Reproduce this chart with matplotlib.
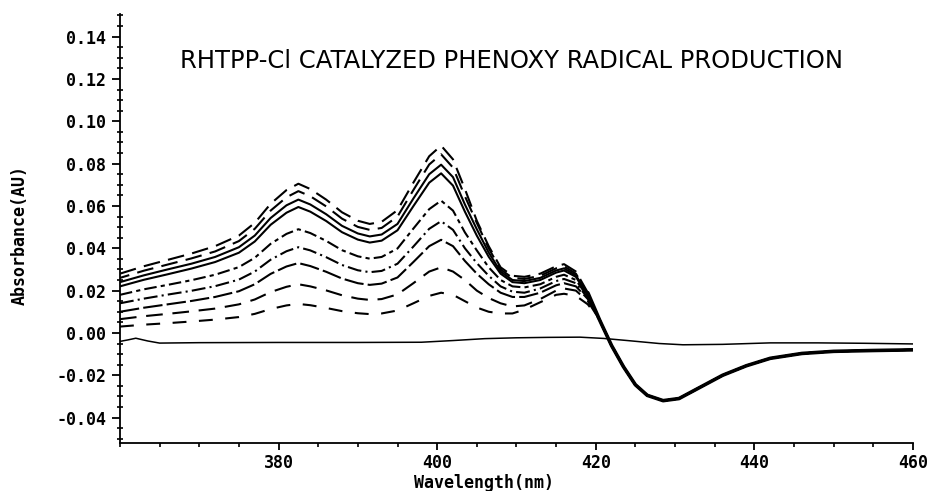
import matplotlib
matplotlib.use("Agg")
import matplotlib.pyplot as plt
from matplotlib.ticker import MultipleLocator, FormatStrFormatter

# wavelength grid (nm) where the traces still differ
wl_head = [360, 363, 366, 369, 372, 375, 377, 379, 381, 382.5, 384, 386, 388, 390,
           391.5, 393, 395, 397, 399, 400.5, 402, 403.5, 405, 406.5, 408, 409.5,
           411, 413, 415, 416, 417.5, 419]

# absorbance of each trace, top to bottom
c1 = [0.028, 0.0315, 0.0345, 0.0375, 0.041, 0.046, 0.052, 0.061, 0.0675, 0.0705, 0.068,
      0.063, 0.057, 0.053, 0.0515, 0.0525, 0.058, 0.071, 0.0835, 0.0885, 0.082, 0.068,
      0.053, 0.041, 0.031, 0.027, 0.0265, 0.028, 0.0315, 0.0325, 0.029, 0.019]
c2 = [0.026, 0.0294, 0.0323, 0.0352, 0.0385, 0.0434, 0.0492, 0.0578, 0.0641, 0.067, 0.0646,
      0.0598, 0.054, 0.0501, 0.0487, 0.0496, 0.055, 0.0675, 0.0796, 0.0844, 0.0781, 0.0646,
      0.052, 0.040, 0.030, 0.026, 0.0255, 0.027, 0.0305, 0.0315, 0.028, 0.0185]
c3 = [0.024, 0.0272, 0.030, 0.0327, 0.0359, 0.0405, 0.046, 0.0543, 0.0603, 0.063, 0.0607,
      0.0561, 0.0506, 0.047, 0.0456, 0.0465, 0.0515, 0.0635, 0.075, 0.0795, 0.0736, 0.0607,
      0.049, 0.038, 0.029, 0.025, 0.0245, 0.026, 0.0295, 0.0305, 0.0272, 0.018]
c4 = [0.022, 0.0251, 0.0277, 0.0304, 0.0335, 0.0379, 0.0432, 0.0511, 0.0568, 0.0595, 0.0573,
      0.0529, 0.0476, 0.0441, 0.0427, 0.0436, 0.0485, 0.0599, 0.071, 0.0754, 0.0696, 0.0573,
      0.046, 0.036, 0.028, 0.024, 0.0235, 0.025, 0.0285, 0.0295, 0.0265, 0.0175]
c5 = [0.018, 0.0206, 0.0227, 0.0249, 0.0275, 0.0311, 0.0355, 0.0421, 0.0468, 0.049, 0.0472,
      0.0435, 0.0391, 0.0362, 0.0351, 0.0359, 0.0399, 0.0493, 0.0585, 0.0625, 0.0578, 0.0475,
      0.039, 0.031, 0.025, 0.022, 0.0215, 0.023, 0.0265, 0.0275, 0.025, 0.017]
c6 = [0.014, 0.0162, 0.0181, 0.0199, 0.0221, 0.0252, 0.029, 0.0346, 0.0386, 0.0405, 0.039,
      0.0358, 0.0321, 0.0296, 0.0287, 0.0293, 0.0327, 0.0408, 0.0492, 0.0528, 0.0487, 0.040,
      0.033, 0.027, 0.022, 0.0195, 0.019, 0.021, 0.0245, 0.0255, 0.0235, 0.0165]
c7 = [0.010, 0.0119, 0.0135, 0.0151, 0.017, 0.0197, 0.023, 0.0279, 0.0314, 0.033, 0.0316,
      0.0289, 0.0257, 0.0235, 0.0227, 0.0233, 0.0262, 0.0335, 0.041, 0.044, 0.041, 0.034,
      0.028, 0.023, 0.019, 0.017, 0.017, 0.019, 0.0225, 0.0235, 0.022, 0.016]
c8 = [0.0065, 0.0079, 0.009, 0.0102, 0.0115, 0.0135, 0.0158, 0.0193, 0.0218, 0.023, 0.022,
      0.0201, 0.0178, 0.0162, 0.0156, 0.016, 0.0182, 0.0235, 0.029, 0.031, 0.029, 0.025,
      0.020, 0.0165, 0.014, 0.0125, 0.013, 0.016, 0.020, 0.021, 0.020, 0.015]
c9 = [0.003, 0.0039, 0.0046, 0.0054, 0.0063, 0.0075, 0.009, 0.0113, 0.013, 0.0137, 0.0131,
      0.0118, 0.0103, 0.0093, 0.0089, 0.0092, 0.0106, 0.014, 0.0175, 0.019, 0.018, 0.015,
      0.012, 0.010, 0.0092, 0.0092, 0.011, 0.0145, 0.018, 0.0185, 0.0175, 0.0135]

# past ~420 nm all traces lie on top of each other
wl_tail = [420.5, 422, 423.5, 425, 426.5, 428.5, 430.5, 433, 436, 439, 442, 446, 450, 455, 460]
tail = [0.006, -0.006, -0.016, -0.0245, -0.0295, -0.032, -0.031, -0.026, -0.020, -0.0155,
        -0.012, -0.0097, -0.0087, -0.0083, -0.008]

# baseline scan
wl_base = [360, 361, 362, 363.5, 365, 370, 380, 390, 398, 402, 406, 410, 414, 418, 421,
           424, 428, 431, 436, 442, 448, 454, 460]
base = [-0.0040, -0.0033, -0.0025, -0.0038, -0.0048, -0.0046, -0.0045, -0.0045, -0.0044,
        -0.0036, -0.0027, -0.0023, -0.0021, -0.0020, -0.0026, -0.0036, -0.0050, -0.0056,
        -0.0054, -0.0047, -0.0047, -0.0049, -0.0052]

traces = [c1, c2, c3, c4, c5, c6, c7, c8, c9]
styles = [(0, (12, 6)), (5, (12, 6)), "-", "-", (0, (9, 3, 3, 3)),
          (0, (10, 3, 1.5, 3)), (0, (14, 3)), (0, (12, 7)), (0, (10, 9))]

plt.rcParams["lines.scale_dashes"] = False
plt.rcParams["axes.unicode_minus"] = False

fig = plt.figure(figsize=(9.35, 4.91), dpi=100)
ax = fig.add_axes([0.1283, 0.0978, 0.8481, 0.8737])

for vals, ls in zip(traces, styles):
    ax.plot(wl_head + wl_tail, vals + tail, color="black", lw=1.5, linestyle=ls)
# merged part of the traces prints heavier
ax.plot(wl_head[-1:] + wl_tail, c1[-1:] + tail, color="black", lw=2.6,
        solid_capstyle="round")
ax.plot(wl_base, base, color="black", lw=1.1)

ax.set_xlim(360, 460)
ax.set_ylim(-0.052, 0.1507)

ax.spines["top"].set_visible(False)
ax.spines["right"].set_visible(False)
ax.spines["left"].set_linewidth(1.3)
ax.spines["bottom"].set_linewidth(1.3)

ax.xaxis.set_major_locator(MultipleLocator(20))
ax.xaxis.set_minor_locator(MultipleLocator(5))
ax.yaxis.set_major_locator(MultipleLocator(0.02))
ax.yaxis.set_minor_locator(MultipleLocator(0.005))
ax.yaxis.set_major_formatter(FormatStrFormatter("%.2f"))
ax.set_xticks([380, 400, 420, 440, 460])

ax.tick_params(axis="x", which="major", direction="out", length=5, width=1.3, pad=3)
ax.tick_params(axis="x", which="minor", direction="out", length=3, width=1.2)
ax.tick_params(axis="y", which="major", direction="out", length=6, width=1.3, pad=4)
ax.tick_params(axis="y", which="minor", direction="inout", length=4, width=1.2)
for lab in ax.get_xticklabels() + ax.get_yticklabels():
    lab.set_fontfamily("DejaVu Sans Mono")
    lab.set_fontweight("bold")
    lab.set_fontsize(12)

fig.text(484 / 935, 1 - 483 / 491, "Wavelength(nm)", ha="center", va="center",
         fontfamily="DejaVu Sans Mono", fontweight="bold", fontsize=12)
fig.text(20 / 935, 1 - 235 / 491, "Absorbance(AU)", ha="center", va="center",
         rotation=90, fontfamily="DejaVu Sans Mono", fontweight="bold", fontsize=12)
fig.text(180 / 935, 1 - 61 / 491, "RHTPP-Cl CATALYZED PHENOXY RADICAL PRODUCTION",
         ha="left", va="center", fontfamily="DejaVu Sans", fontsize=17.5)

fig.savefig("out.png", dpi=100)
